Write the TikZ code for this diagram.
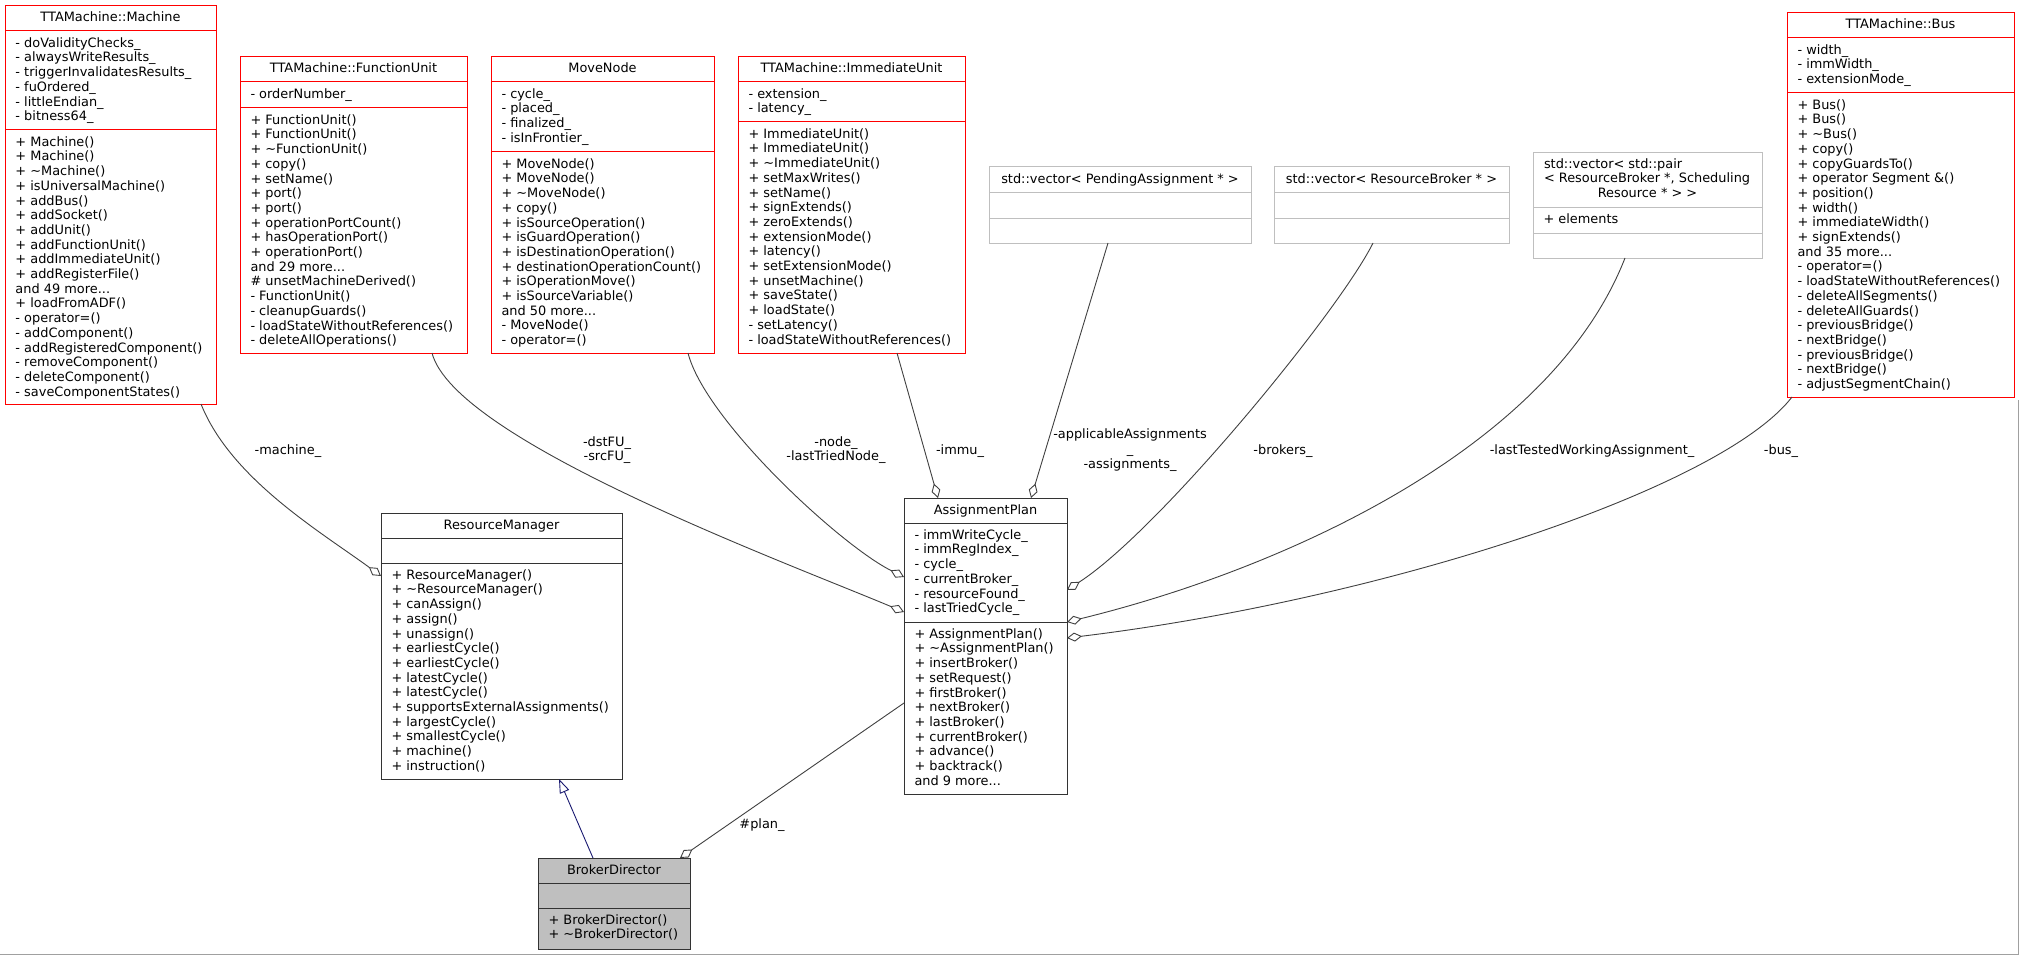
\documentclass[tikz,border=0pt]{standalone}
\usepackage{fontspec}
\newfontfamily\dvs{DejaVu Sans}
\usetikzlibrary{arrows.meta,calc}
\definecolor{edgec}{HTML}{404040}
\definecolor{inhc}{HTML}{191970}
\definecolor{gbord}{HTML}{BFBFBF}
\definecolor{bdfill}{HTML}{BFBFBF}
\definecolor{dbord}{HTML}{333333}
\definecolor{rbord}{HTML}{FF0000}
\definecolor{framec}{HTML}{A0A0A0}
\newcommand{\umlcls}[8]{%
  \node[#2, anchor=north west, minimum width={#5-#3}, minimum height={#6-#4}] (#1) at (#3,#4) {};
  \draw[#2] (#3,#7) -- (#5,#7);
  \draw[#2] (#3,#8) -- (#5,#8);
}
\begin{document}
\begin{tikzpicture}[x=1pt,y=-1pt,
  every node/.style={font={\dvs\fontsize{12.9pt}{14.7pt}\selectfont}, inner sep=0pt, outer sep=0pt, text=black},
  redbox/.style={draw=rbord, line width=1pt},
  greybox/.style={draw=gbord, line width=1pt},
  blackbox/.style={draw=dbord, line width=1pt},
  bdbox/.style={draw=dbord, fill=bdfill, line width=1pt},
  txt/.style={anchor=north west, align=left},
  ttl/.style={anchor=base},
  lbl/.style={align=center},
  agg/.style={draw=edgec, line width=0.9pt, -{Diamond[open, length=15pt, width=9pt, line width=0.9pt]}},
  inh/.style={draw=inhc, line width=0.9pt, -{Triangle[open, length=14pt, width=10pt, line width=0.9pt]}},
  framel/.style={draw=framec, line width=1pt}
]
\useasboundingbox (0,0) rectangle (2019,955);

% ---------- Machine
\umlcls{machine}{redbox}{5}{6}{216}{404}{31}{130}
\node[ttl] at (110.5,22) {TTAMachine::Machine};
\node[txt] at (15.5,37) {\strut- doValidityChecks\_\\- alwaysWriteResults\_\\- triggerInvalidatesResults\_\\- fuOrdered\_\\- littleEndian\_\\- bitness64\_};
\node[txt] at (15.5,136) {\strut+ Machine()\\+ Machine()\\+ \textasciitilde Machine()\\+ isUniversalMachine()\\+ addBus()\\+ addSocket()\\+ addUnit()\\+ addFunctionUnit()\\+ addImmediateUnit()\\+ addRegisterFile()\\and 49 more...\\+ loadFromADF()\\- operator=()\\- addComponent()\\- addRegisteredComponent()\\- removeComponent()\\- deleteComponent()\\- saveComponentStates()};

% ---------- FunctionUnit
\umlcls{fu}{redbox}{240}{57}{467}{353}{82}{108}
\node[ttl] at (353.5,73) {TTAMachine::FunctionUnit};
\node[txt] at (250.5,88) {\strut- orderNumber\_};
\node[txt] at (250.5,114) {\strut+ FunctionUnit()\\+ FunctionUnit()\\+ \textasciitilde FunctionUnit()\\+ copy()\\+ setName()\\+ port()\\+ port()\\+ operationPortCount()\\+ hasOperationPort()\\+ operationPort()\\and 29 more...\\\# unsetMachineDerived()\\- FunctionUnit()\\- cleanupGuards()\\- loadStateWithoutReferences()\\- deleteAllOperations()};

% ---------- MoveNode
\umlcls{mn}{redbox}{491}{57}{714}{353}{82}{152}
\node[ttl] at (602.5,73) {MoveNode};
\node[txt] at (501.5,88) {\strut- cycle\_\\- placed\_\\- finalized\_\\- isInFrontier\_};
\node[txt] at (501.5,158) {\strut+ MoveNode()\\+ MoveNode()\\+ \textasciitilde MoveNode()\\+ copy()\\+ isSourceOperation()\\+ isGuardOperation()\\+ isDestinationOperation()\\+ destinationOperationCount()\\+ isOperationMove()\\+ isSourceVariable()\\and 50 more...\\- MoveNode()\\- operator=()};

% ---------- ImmediateUnit
\umlcls{iu}{redbox}{738}{57}{965}{353}{82}{122}
\node[ttl] at (851.5,73) {TTAMachine::ImmediateUnit};
\node[txt] at (748.5,88) {\strut- extension\_\\- latency\_};
\node[txt] at (748.5,128) {\strut+ ImmediateUnit()\\+ ImmediateUnit()\\+ \textasciitilde ImmediateUnit()\\+ setMaxWrites()\\+ setName()\\+ signExtends()\\+ zeroExtends()\\+ extensionMode()\\+ latency()\\+ setExtensionMode()\\+ unsetMachine()\\+ saveState()\\+ loadState()\\- setLatency()\\- loadStateWithoutReferences()};

% ---------- vectors
\umlcls{pend}{greybox}{989}{167}{1251}{243}{192}{218}
\node[ttl] at (1120,183) {std::vector< PendingAssignment * >};
\umlcls{brk}{greybox}{1274}{167}{1509}{243}{192}{218}
\node[ttl] at (1391.5,183) {std::vector< ResourceBroker * >};
\umlcls{pair}{greybox}{1533}{153}{1762}{258}{207}{233}
\node[anchor=base west] at (1544,168.5) {std::vector< std::pair};
\node[anchor=base west] at (1544,182.5) {< ResourceBroker *, Scheduling};
\node[ttl] at (1647.5,197.5) {Resource * > >};
\node[txt] at (1543.5,213) {\strut+ elements};

% ---------- Bus
\umlcls{bus}{redbox}{1787}{13}{2014}{397}{38}{93}
\node[ttl] at (1900.5,29) {TTAMachine::Bus};
\node[txt] at (1797.5,44) {\strut- width\_\\- immWidth\_\\- extensionMode\_};
\node[txt] at (1797.5,99) {\strut+ Bus()\\+ Bus()\\+ \textasciitilde Bus()\\+ copy()\\+ copyGuardsTo()\\+ operator Segment \&()\\+ position()\\+ width()\\+ immediateWidth()\\+ signExtends()\\and 35 more...\\- operator=()\\- loadStateWithoutReferences()\\- deleteAllSegments()\\- deleteAllGuards()\\- previousBridge()\\- nextBridge()\\- previousBridge()\\- nextBridge()\\- adjustSegmentChain()};

% ---------- ResourceManager
\umlcls{rm}{blackbox}{381}{513}{622}{779}{538}{563}
\node[ttl] at (501.5,529) {ResourceManager};
\node[txt] at (391.5,569) {\strut+ ResourceManager()\\+ \textasciitilde ResourceManager()\\+ canAssign()\\+ assign()\\+ unassign()\\+ earliestCycle()\\+ earliestCycle()\\+ latestCycle()\\+ latestCycle()\\+ supportsExternalAssignments()\\+ largestCycle()\\+ smallestCycle()\\+ machine()\\+ instruction()};

% ---------- AssignmentPlan
\umlcls{ap}{blackbox}{904}{498}{1067}{794}{523}{622}
\node[ttl] at (985.5,514) {AssignmentPlan};
\node[txt] at (914.5,529) {\strut- immWriteCycle\_\\- immRegIndex\_\\- cycle\_\\- currentBroker\_\\- resourceFound\_\\- lastTriedCycle\_};
\node[txt] at (914.5,628) {\strut+ AssignmentPlan()\\+ \textasciitilde AssignmentPlan()\\+ insertBroker()\\+ setRequest()\\+ firstBroker()\\+ nextBroker()\\+ lastBroker()\\+ currentBroker()\\+ advance()\\+ backtrack()\\and 9 more...};

% ---------- BrokerDirector
\umlcls{bd}{bdbox}{538}{858}{690}{949}{883}{908}
\node[ttl] at (614,874) {BrokerDirector};
\node[txt] at (548.5,914) {\strut+ BrokerDirector()\\+ \textasciitilde BrokerDirector()};

% ---------- connectors
\draw[agg] ($(machine.south west)+(196,0)$) .. controls (231,479) and (321,532) .. ($(rm.north west)+(0,63)$);
\node[lbl] (l1) at (288,451) {-machine\_};

\draw[agg] ($(fu.south west)+(192,0)$) .. controls (455,440) and (780,560) .. ($(ap.north west)+(0,114)$);
\node[lbl] (l2) at (607,450) {-dstFU\_\\-srcFU\_};

\draw[agg] ($(mn.south west)+(197,0)$) .. controls (705,420) and (840,545) .. ($(ap.north west)+(0,79)$);
\node[lbl] (l3) at (836,450) {-node\_\\-lastTriedNode\_};

\draw[agg] ($(iu.south west)+(159,0)$) -- ($(ap.north west)+(34,0)$);
\node[lbl] (l4) at (960,451) {-immu\_};

\draw[agg] ($(pend.south west)+(119,0)$) -- ($(ap.north west)+(127,0)$);
\node[lbl] (l5) at (1130,450) {-applicableAssignments\\\_\\-assignments\_};

\draw[agg] ($(brk.south west)+(99,0)$) .. controls (1340,310) and (1160,530) .. ($(ap.north east)+(0,92)$);
\node[lbl] (l6) at (1283,451) {-brokers\_};

\draw[agg] ($(pair.south west)+(92,0)$) .. controls (1550,450) and (1280,570) .. ($(ap.north east)+(0,124)$);
\node[lbl] (l7) at (1592,451) {-lastTestedWorkingAssignment\_};

\draw[agg] ($(bus.south west)+(5,0)$) .. controls (1720,490) and (1380,600) .. ($(ap.north east)+(0,140)$);
\node[lbl] (l8) at (1781,451) {-bus\_};

\draw[agg] ($(ap.north west)+(0,205)$) -- ($(bd.north west)+(142,0)$);
\node[lbl] (l9) at (762,825) {\#plan\_};

\draw[inh] ($(bd.north west)+(55,0)$) -- ($(rm.south west)+(178,0)$);

% ---------- frame
\draw[framel] (0,954.5) -- (2019,954.5);
\draw[framel] (2018.5,400) -- (2018.5,955);
\end{tikzpicture}
\end{document}
